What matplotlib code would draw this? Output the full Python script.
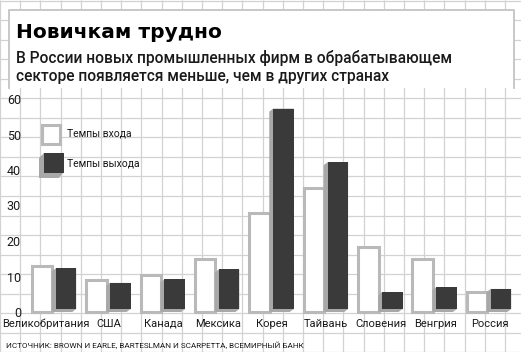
import matplotlib
matplotlib.use('Agg')

import matplotlib.pyplot as plt
import matplotlib.transforms as mtrans
from matplotlib.patches import Rectangle, Polygon

countries = ['Великобритания', 'США', 'Канада', 'Мексика', 'Корея',
             'Тайвань', 'Словения', 'Венгрия', 'Россия']
entry_rate = [13, 9, 10.5, 15, 27.8, 35, 18.2, 14.8, 5.6]
exit_rate = [12.3, 8.2, 9.2, 12, 57.3, 42.2, 5.6, 7, 6.5]
yticks = [0, 10, 20, 30, 40, 50, 60]

title = 'Новичкам трудно'
subtitle = ['В России новых промышленных фирм в обрабатывающем',
            'секторе появляется меньше, чем в других странах']
source = 'ИСТОЧНИК: BROWN И EARLE, BARTESLMAN И SCARPETTA, ВСЕМИРНЫЙ БАНК'

narrow = ['Roboto', 'DejaVu Sans']
ink = '#1a1a1a'
light = '#b9b9b9'
dark = '#3a3a3a'
shade = '#a8a8a8'

W, H = 521, 352
fig = plt.figure(figsize=(W / 100, H / 100), dpi=100)

# graph paper background, pixel coords
bg = fig.add_axes([0, 0, 1, 1])
bg.set_xlim(0, W)
bg.set_ylim(H, 0)
bg.axis('off')
gx = [20.2 * k for k in range(27)]
gy = [0.5 + 19.55 * k for k in range(19)]
bg.vlines(gx, 0, H, color='#d2d2d2', lw=0.9)
bg.hlines(gy, 0, W, color='#d2d2d2', lw=0.9)

# title box
bg.add_patch(Rectangle((9, 10), 505, 78, facecolor='white', edgecolor='none', zorder=2))
bg.plot([9, 9, 514, 514], [88, 10, 10, 88], color='#c4c4c4', lw=1.3, zorder=3)
bg.text(16, 37.5, title, fontsize=14.5, fontweight='bold', color='black',
        va='baseline', ha='left', zorder=4)
bg.text(16, 63.5, subtitle[0], fontsize=11.2, fontweight='medium', family='Roboto',
        color=ink, va='baseline', ha='left', zorder=4)
bg.text(16, 81.5, subtitle[1], fontsize=11.2, fontweight='medium', family='Roboto',
        color=ink, va='baseline', ha='left', zorder=4)

# legend
bg.add_patch(Rectangle((41.5, 124.5), 18.5, 19.5, facecolor='white', edgecolor=light, lw=2.2, zorder=3))
bg.add_patch(Polygon([(39, 158), (39, 178), (59, 178), (63, 173), (44, 173), (44, 153)],
                     closed=True, facecolor=shade, edgecolor='none', zorder=3))
bg.add_patch(Rectangle((44, 153), 19.5, 20, facecolor=dark, edgecolor='none', zorder=3))
bg.text(67, 134, 'Темпы входа', fontsize=7.5, family=narrow, color=ink, va='center', zorder=4)
bg.text(67, 164, 'Темпы выхода', fontsize=7.5, family=narrow, color=ink, va='center', zorder=4)

# source
bg.text(6, 345.5, source, fontsize=5.9, family=narrow, color=ink, va='center', ha='left')

# chart axes: value 0 at y=312 px, 60 at y=99 px; categories 54.375 px apart
px = 54.375
y0, y60 = 312, 99
ax = fig.add_axes([0, (H - y0) / H, 1, (y0 - y60) / H])
ax.patch.set_alpha(0)
for s in ax.spines.values():
    s.set_visible(False)
ax.set_xlim(-54.5 / px, (W - 54.5) / px)
ax.set_ylim(0, 60)
upy = 60 / (y0 - y60)

bw = 20.5 / px
off_in = 12.5 / px
off_out = 11.5 / px
dx = 4 / px
dy = 3 * upy

xs = list(range(len(countries)))
ax.bar([x - off_in for x in xs], entry_rate, width=bw, facecolor='white',
       edgecolor=light, linewidth=2.2, zorder=3, clip_on=False)

for x, v in zip(xs, exit_rate):
    L = x + off_out - bw / 2
    R = x + off_out + bw / 2
    ax.add_patch(Polygon([(L - dx, 0), (L - dx, v - dy), (L, v), (R, v), (R, dy), (R - dx, 0)],
                         closed=True, facecolor=shade, edgecolor='none', zorder=3, clip_on=False))
ax.bar([x + off_out for x in xs], [v - dy for v in exit_rate], bottom=dy, width=bw,
       facecolor=dark, edgecolor='none', zorder=4, clip_on=False)

ax.set_yticks(yticks)
ax.set_yticklabels([str(t) for t in yticks], family=narrow, fontsize=9, color=ink)
ax.tick_params(axis='y', length=0, pad=-21 * 0.72)
ax.set_xticks(xs)
ax.set_xticklabels(countries, family=narrow, fontsize=8, color=ink)
ax.tick_params(axis='x', length=0, pad=5)
lab = ax.get_xticklabels()[0]
lab.set_transform(lab.get_transform() + mtrans.ScaledTranslation(-8.5 / 100, 0, fig.dpi_scale_trans))

fig.savefig('out.png', dpi=100)
